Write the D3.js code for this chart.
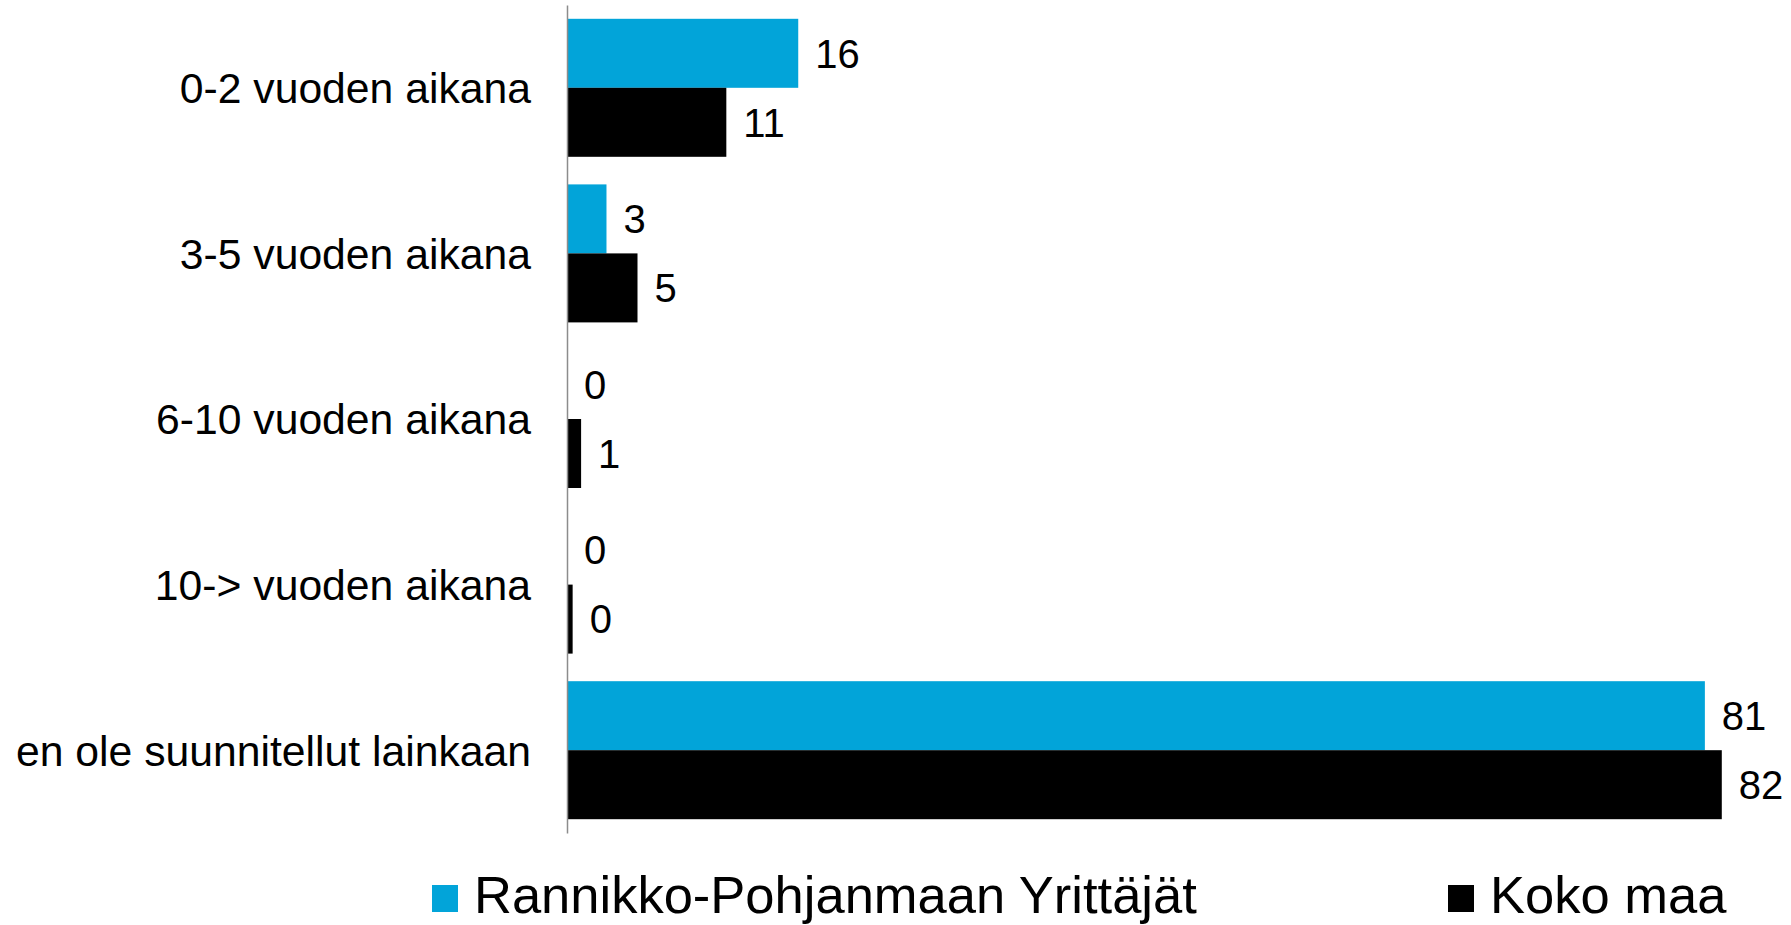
<!DOCTYPE html>
<html>
<head>
<meta charset="utf-8">
<script src="https://cdn.jsdelivr.net/npm/d3@7"></script>
<style>
    html, body { margin: 0; padding: 0; background: #fff; }
    #container { width: 1791px; height: 925px; }
    text { font-family: "Liberation Sans", Arial, sans-serif; fill: #000; }
</style>
</head>
<body>
<div id="container"></div>
<script>
'use strict';
(function() {
    // chart data
    var categories = ['0-2 vuoden aikana', '3-5 vuoden aikana', '6-10 vuoden aikana', '10-> vuoden aikana', 'en ole suunnitellut lainkaan'];
    var seriesNames = ['Rannikko-Pohjanmaan Yrittäjät', 'Koko maa'];
    var rannikkoValues = [16.4, 2.8, 0, 0, 80.7];
    var kokoMaaValues = [11.3, 5.0, 1.0, 0.4, 81.9];
    var colors = ['#02a4d9', '#000000'];

    var width = 1791,
        height = 925;

    var svg = d3.select('#container').append('svg')
        .attr('width', width)
        .attr('height', height);

    // scales
    var axisX = 567;
    var x = d3.scaleLinear()
        .domain([0, 85])
        .range([axisX, axisX + 14.1 * 85]);

    var y = d3.scaleBand()
        .domain(categories)
        .range([5, 833])
        .paddingInner(1 / 6)
        .paddingOuter(1 / 12);

    var ySub = d3.scaleBand()
        .domain(seriesNames)
        .range([0, y.bandwidth()]);

    var fmt = d3.format('.0f');

    // rows of data for bars
    var rows = categories.map(function(c, i) {
        return [
            {cat: c, series: seriesNames[0], value: rannikkoValues[i], color: colors[0]},
            {cat: c, series: seriesNames[1], value: kokoMaaValues[i], color: colors[1]}
        ];
    });

    var groups = svg.selectAll('.cat')
        .data(rows)
        .enter().append('g')
        .attr('class', 'cat')
        .attr('transform', function(d, i) { return 'translate(0,' + y(categories[i]) + ')'; });

    groups.selectAll('rect')
        .data(function(d) { return d; })
        .enter().append('rect')
        .attr('x', x(0))
        .attr('y', function(d) { return ySub(d.series); })
        .attr('width', function(d) { return x(d.value) - x(0); })
        .attr('height', ySub.bandwidth())
        .attr('fill', function(d) { return d.color; });

    groups.selectAll('.val')
        .data(function(d) { return d; })
        .enter().append('text')
        .attr('class', 'val')
        .attr('x', function(d) { return x(d.value) + 17; })
        .attr('y', function(d) { return ySub(d.series) + ySub.bandwidth() / 2; })
        .attr('dy', '0.36em')
        .style('font-size', '40px')
        .text(function(d) { return fmt(d.value); });

    // vertical axis with category labels
    var axisLeft = d3.axisLeft(y).tickSize(0).tickPadding(36);
    var ax = svg.append('g')
        .attr('class', 'yAxis')
        .attr('transform', 'translate(' + axisX + ',0)')
        .call(axisLeft);
    ax.select('.domain')
        .attr('stroke', '#8c8c8c')
        .attr('stroke-width', 1.5);
    ax.selectAll('text')
        .attr('dy', '0.36em')
        .style('font-size', '42.7px')
        .style('font-family', '"Liberation Sans", Arial, sans-serif')
        .attr('fill', '#000');

    // legend
    var legendX = [432, 1448];
    var legend = svg.selectAll('.legend')
        .data(seriesNames)
        .enter().append('g')
        .attr('class', 'legend')
        .attr('transform', function(d, i) { return 'translate(' + legendX[i] + ',885)'; });

    legend.append('rect')
        .attr('width', 26)
        .attr('height', 27)
        .attr('fill', function(d, i) { return colors[i]; });

    legend.append('text')
        .attr('x', 42)
        .attr('y', 28)
        .style('font-size', '52.5px')
        .text(function(d) { return d; });
})();
</script>
</body>
</html>
